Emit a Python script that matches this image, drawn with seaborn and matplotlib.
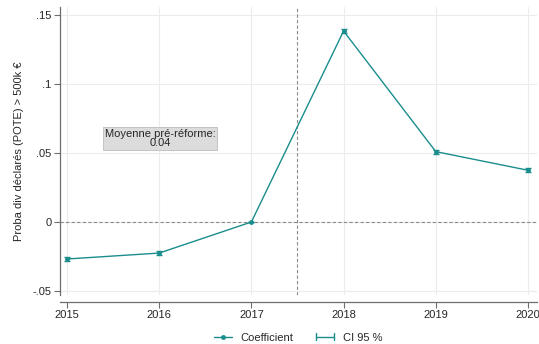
import numpy as np
import pandas as pd
import matplotlib
matplotlib.use('Agg')
import matplotlib.pyplot as plt
import seaborn as sns
from matplotlib.lines import Line2D
from matplotlib.legend_handler import HandlerBase

# Event-study coefficients
years = [2015, 2016, 2017, 2018, 2019, 2020]
coef = [-0.0268, -0.0225, 0.0, 0.1384, 0.0510, 0.0375]
ci_low = [-0.0286, -0.0241, 0.0, 0.1366, 0.0495, 0.0359]
ci_high = [-0.0250, -0.0209, 0.0, 0.1402, 0.0525, 0.0391]
ytick_vals = [-0.05, 0, 0.05, 0.1, 0.15]
ytick_labels = ['-.05', '0', '.05', '.1', '.15']
pre_mean_label = 'Moyenne pré-réforme:\n0.04'

df = pd.DataFrame({'year': years, 'coef': coef, 'lo': ci_low, 'hi': ci_high})

sns.set_theme(style='white')
plt.rcParams['font.family'] = ['Liberation Sans', 'DejaVu Sans']

teal = '#1b8d8d'
grey = '#6e6e6e'

fig = plt.figure(figsize=(5.39, 3.44), dpi=100)
ax = fig.add_axes([0.1113, 0.1424, 0.885, 0.8373])

ax.grid(True, color='#ececec', linewidth=0.8)
ax.set_axisbelow(True)

ax.axhline(0, color='#8a8a8a', linestyle=(0, (3, 2)), linewidth=0.8, zorder=1)
ax.axvline(2017.5, color='#8a8a8a', linestyle=(0, (3, 2)), linewidth=0.8, zorder=1)

ax.errorbar(df['year'], df['coef'],
            yerr=[df['coef'] - df['lo'], df['hi'] - df['coef']],
            fmt='none', ecolor=teal, elinewidth=1, capsize=2.5, capthick=1, zorder=3)

sns.lineplot(ax=ax, data=df, x='year', y='coef', color=teal, linewidth=1,
             marker='o', markersize=3.5, markeredgewidth=0, zorder=4)

ax.text(2016.01, 0.0605, pre_mean_label, ha='center', va='center', fontsize=8,
        linespacing=0.95,
        bbox=dict(boxstyle='square,pad=0.12', facecolor='#dcdcdc', edgecolor='#bdbdbd', linewidth=0.6))

ax.set_xlim(2014.924, 2020.098)
ax.set_ylim(-0.0529, 0.1558)
ax.set_xticks(years)
ax.set_xticklabels([str(y) for y in years])
ax.set_yticks(ytick_vals)
ax.set_yticklabels(ytick_labels)
ax.set_xlabel('')
ax.set_ylabel('Proba div déclarés (POTE) > 500k €', fontsize=8, labelpad=6)

for s in ['top', 'right']:
    ax.spines[s].set_visible(False)
for s in ['left', 'bottom']:
    ax.spines[s].set_color(grey)
    ax.spines[s].set_linewidth(0.9)
ax.spines['bottom'].set_position(('outward', 5))
ax.tick_params(axis='both', which='both', direction='out', length=4, width=0.8,
               color=grey, pad=2, bottom=True, left=True, labelsize=8)


class CIHandler(HandlerBase):
    def create_artists(self, legend, orig_handle, xd, yd, width, height, fontsize, trans):
        y = height / 2 - yd
        line = Line2D([-xd, -xd + width], [y, y], color=teal, linewidth=1, transform=trans)
        c1 = Line2D([-xd, -xd], [y - 2.5, y + 2.5], color=teal, linewidth=1, transform=trans)
        c2 = Line2D([-xd + width, -xd + width], [y - 2.5, y + 2.5], color=teal, linewidth=1, transform=trans)
        return [line, c1, c2]


h1 = Line2D([], [], color=teal, linewidth=1, marker='o', markersize=3.5, markeredgewidth=0)
h2 = Line2D([], [], color=teal, linewidth=1)
fig.legend([h1, h2], ['Coefficient', 'CI 95 %'], loc='lower center',
           bbox_to_anchor=(0.553, -0.025), ncol=2, frameon=False, fontsize=8,
           handlelength=1.6, columnspacing=2.0, handletextpad=0.8,
           handler_map={h2: CIHandler()})

fig.savefig('out.png', dpi=100)
plt.close()
